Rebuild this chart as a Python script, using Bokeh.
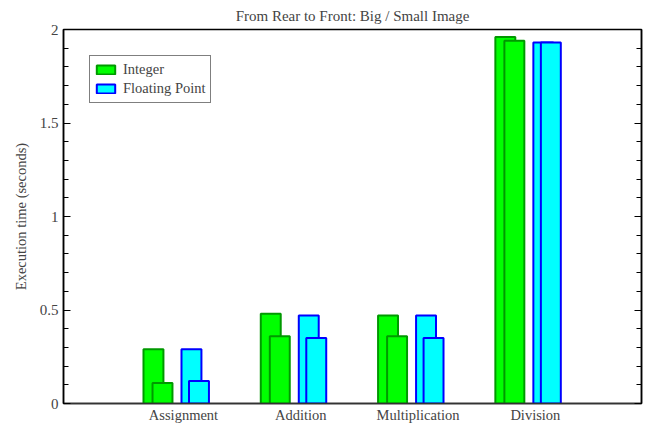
from bokeh.plotting import figure
from bokeh.models import ColumnDataSource, FixedTicker, LinearAxis, Range1d, Legend, LegendItem
from bokeh.transform import dodge
from bokeh.embed import file_html
from bokeh.resources import INLINE

categories = ["Assignment", "Addition", "Multiplication", "Division"]
int_big = [0.29, 0.48, 0.47, 1.96]
int_small = [0.11, 0.36, 0.36, 1.94]
fp_big = [0.29, 0.47, 0.47, 1.93]
fp_small = [0.12, 0.35, 0.35, 1.93]

xpos = [i + 1 for i in range(len(categories))]
src = ColumnDataSource(dict(x=xpos, ib=int_big, is_=int_small, fb=fp_big, fs=fp_small))

FONT = "Liberation Serif"
p = figure(width=653, height=432, output_backend="svg", toolbar_location=None,
           x_range=Range1d(-0.023, 4.905), y_range=Range1d(0, 2),
           min_border_left=63, min_border_right=12, min_border_top=29, min_border_bottom=29)
p.title.text = "From Rear to Front: Big / Small Image"
p.title.align = "center"
p.title.text_font = FONT
p.title.text_font_size = "15px"
p.title.text_font_style = "normal"
p.title.standoff = 11
p.grid.visible = False
p.outline_line_color = "black"
p.outline_line_width = 1.5
p.background_fill_color = "white"
p.border_fill_color = "white"

w = 0.17
green_fill, green_line = "#00ff00", "#009900"
cyan_fill, cyan_line = "#00ffff", "#0000ff"
r1 = p.vbar(x=dodge("x", -0.256), top="ib", width=w, source=src,
            fill_color=green_fill, line_color=green_line, line_width=2)
p.vbar(x=dodge("x", -0.179), top="is_", width=w, source=src,
       fill_color=green_fill, line_color=green_line, line_width=2)
r2 = p.vbar(x=dodge("x", 0.068), top="fb", width=w, source=src,
            fill_color=cyan_fill, line_color=cyan_line, line_width=2)
p.vbar(x=dodge("x", 0.132), top="fs", width=w, source=src,
       fill_color=cyan_fill, line_color=cyan_line, line_width=2)

# x axis
xa = p.xaxis[0]
xa.ticker = FixedTicker(ticks=xpos)
xa.major_label_overrides = {x: c for x, c in zip(xpos, categories)}
xa.major_tick_in = 0
xa.major_tick_out = 0
xa.minor_tick_in = 0
xa.minor_tick_out = 0
xa.major_label_text_font = FONT
xa.major_label_text_font_size = "14.5px"
xa.major_label_standoff = 3
xa.axis_line_color = "#333333"
xa.axis_line_width = 1.5

# y axis
ya = p.yaxis[0]
yticks = [0, 0.5, 1, 1.5, 2]
minor = [round(i * 0.1, 1) for i in range(21)]
ya.ticker = FixedTicker(ticks=yticks, minor_ticks=minor)
ya.major_label_overrides = {0: "0", 0.5: "0.5", 1: "1", 1.5: "1.5", 2: "2"}
ya.axis_label = "Execution time (seconds)"
ya.axis_label_text_font = FONT
ya.axis_label_text_font_size = "14.5px"
ya.axis_label_text_font_style = "normal"
ya.axis_label_standoff = 8
ya.major_label_text_font = FONT
ya.major_label_text_font_size = "15px"
ya.major_tick_in = 7
ya.major_tick_out = 0
ya.minor_tick_in = 5
ya.minor_tick_out = 0
ya.axis_line_width = 1.5
ya.major_label_standoff = 5

ra = LinearAxis(ticker=FixedTicker(ticks=yticks, minor_ticks=minor))
ra.major_label_overrides = {t: "" for t in yticks}
ra.major_tick_in = 7
ra.major_tick_out = 0
ra.minor_tick_in = 5
ra.minor_tick_out = 0
ra.axis_line_width = 1.5
p.add_layout(ra, "right")

legend = Legend(items=[LegendItem(label="Integer", renderers=[r1]),
                       LegendItem(label="Floating Point", renderers=[r2])],
                location="top_left")
legend.margin = 26
legend.padding = 4
legend.spacing = 0
legend.label_text_font = FONT
legend.label_text_font_size = "14.5px"
legend.glyph_width = 23
legend.glyph_height = 11
legend.label_height = 19
legend.label_standoff = 6
legend.border_line_color = "black"
legend.border_line_width = 1
p.add_layout(legend, "center")

open("out.html", "w").write(file_html(p, INLINE))
